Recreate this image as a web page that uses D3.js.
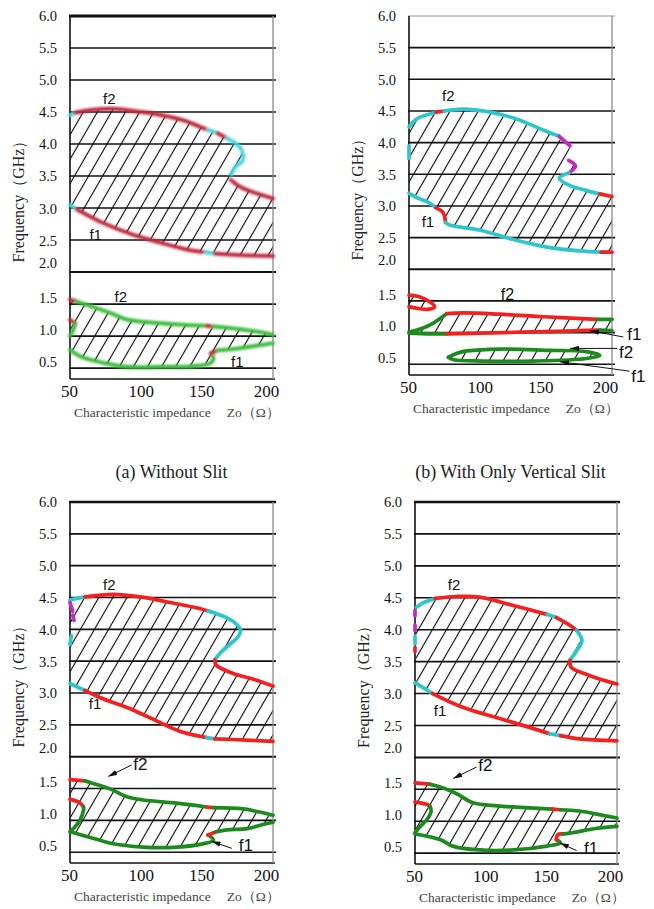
<!DOCTYPE html>
<html>
<head>
<meta charset="utf-8">
<script src="https://cdn.jsdelivr.net/npm/d3@7"></script>
<style>
  body { margin: 0; background: #fff; }
  svg { display: block; }
</style>
</head>
<body>
<svg id="fig" width="654" height="909"></svg>
<script>
// ---- axes ----
const zTicks = [50, 100, 150, 200];
const fTicks = [6.0, 5.5, 5.0, 4.5, 4.0, 3.5, 3.0, 2.5, 2.0, 1.5, 1.0, 0.5];
const fTickLabels = ["6.0", "5.5", "5.0", "4.5", "4.0", "3.5", "3.0", "2.5", "2.0", "1.5", "1.0", "0.5"];
const fFloor = 0.33;

// ---- curves: [Zo (Ω), frequency (GHz), colour code of the segment that starts here] ----
// colour codes: r red, c cyan, m magenta, g green, "-" no segment
// (a) Without Slit
const aF2 = [[50,4.45,"c"],[54,4.49,"r"],[65,4.53,"r"],[82,4.55,"r"],[100,4.51,"r"],[110,4.48,"r"],[134,4.37,"r"],[146,4.27,"r"],[152,4.22,"c"],[159,4.17,"r"],[166,4.09,"c"],[173,4.0,"c"],[177,3.9,"c"],[177.5,3.74,"c"],[172.5,3.65,"c"],[169,3.52,"-"],[169,3.44,"r"],[176,3.33,"r"],[188,3.23,"r"],[200,3.15,"r"]];
const aF1 = [[50,3.05,"c"],[55,2.98,"r"],[72,2.79,"r"],[97,2.58,"r"],[115,2.47,"r"],[137,2.35,"r"],[150,2.31,"c"],[157,2.29,"r"],[171,2.27,"r"],[200,2.25,"r"]];
const aF2Low = [[50,1.57,"r"],[55,1.54,"g"],[65,1.47,"g"],[80,1.36,"g"],[92,1.26,"g"],[117,1.2,"g"],[141,1.17,"g"],[151,1.16,"r"],[156,1.15,"g"],[171,1.12,"g"],[191,1.06,"g"],[200,1.02,"g"]];
const aHook = [[50,1.25,"r"],[54,1.2,"g"],[52,1.08,"g"],[50,1.0,"g"]];
const aF1Low = [[50,0.78,"g"],[58,0.68,"g"],[67,0.62,"g"],[75,0.58,"g"],[92,0.52,"g"],[117,0.52,"g"],[141,0.53,"g"],[154,0.58,"g"],[156,0.66,"g"],[154,0.73,"r"],[159,0.78,"g"],[171,0.8,"g"],[191,0.86,"g"],[200,0.89,"g"]];

// (b) With Only Vertical Slit
const bF2 = [[50,4.25,"c"],[56,4.38,"c"],[65,4.45,"c"],[70,4.48,"r"],[76,4.5,"c"],[90,4.53,"c"],[108,4.49,"c"],[130,4.37,"c"],[149,4.2,"c"],[161,4.1,"m"],[169,3.95,"-"],[168,3.72,"m"],[173,3.63,"m"],[168,3.52,"c"],[161,3.44,"c"],[169,3.32,"c"],[180,3.25,"c"],[191,3.19,"r"],[200,3.15,"r"]];
const bLeft = [[50,3.95,"c"],[50,3.75,"c"]];
const bF1 = [[50,3.2,"c"],[57,3.12,"c"],[65,3.05,"c"],[70,2.97,"r"],[75,2.9,"r"],[77,2.74,"c"],[80,2.7,"c"],[102,2.62,"c"],[127,2.47,"c"],[152,2.35,"c"],[176,2.29,"c"],[192,2.27,"r"],[200,2.27,"r"]];
const bRedLoop = [[50,1.59,"r"],[57,1.57,"r"],[65,1.49,"r"],[69,1.41,"r"],[65,1.37,"r"],[57,1.38,"r"],[50,1.41,"r"]];
const bF2Low = [[50,1.01,"g"],[60,1.07,"g"],[68,1.15,"g"],[78,1.3,"r"],[90,1.31,"r"],[117,1.29,"r"],[150,1.25,"r"],[189,1.21,"g"],[200,1.21,"g"]];
const bF1Low = [[50,0.99,"g"],[65,0.98,"g"],[78,0.98,"r"],[120,1.0,"r"],[160,1.02,"r"],[176,1.03,"r"],[191,1.04,"g"],[200,1.03,"g"]];
const bGreenLoop = [[79,0.61,"g"],[85,0.67,"g"],[93,0.71,"g"],[117,0.74,"g"],[154,0.72,"g"],[181,0.7,"g"],[191,0.64,"g"],[181,0.59,"g"],[142,0.55,"g"],[105,0.55,"g"],[83,0.57,"g"],[79,0.61,"g"]];

// (c)
const cF2 = [[50,4.46,"c"],[56,4.49,"c"],[61,4.51,"r"],[82,4.55,"r"],[102,4.51,"r"],[122,4.43,"r"],[141,4.35,"r"],[152,4.29,"c"],[166,4.18,"c"],[173,4.08,"c"],[176,3.99,"c"],[174,3.88,"c"],[170,3.8,"c"],[161,3.63,"c"],[157,3.52,"r"],[158,3.44,"r"],[170,3.31,"r"],[185,3.22,"r"],[200,3.11,"r"]];
const cLeft = [[50,4.42,"m"],[52,4.28,"-"],[52,4.22,"m"],[53,4.14,"-"],[51,3.9,"c"],[50,3.76,"c"]];
const cF1 = [[50,3.15,"c"],[61,3.04,"r"],[72,2.93,"r"],[97,2.73,"r"],[117,2.53,"r"],[131,2.4,"r"],[146,2.32,"r"],[151,2.3,"c"],[157,2.28,"r"],[170,2.27,"r"],[200,2.24,"r"]];
const cF2Low = [[50,1.64,"r"],[61,1.62,"g"],[67,1.58,"g"],[80,1.49,"g"],[92,1.37,"g"],[104,1.32,"g"],[129,1.27,"g"],[151,1.21,"r"],[156,1.2,"g"],[178,1.18,"g"],[190,1.13,"g"],[200,1.08,"g"]];
const cHook = [[50,1.33,"r"],[57,1.28,"r"],[60,1.21,"g"],[60,1.16,"g"],[57,0.99,"g"],[52.5,0.87,"g"],[50,0.82,"g"]];
const cF1Low = [[50,0.82,"g"],[67,0.72,"g"],[80,0.64,"g"],[104,0.58,"g"],[129,0.58,"g"],[148,0.63,"g"],[156,0.69,"g"],[152,0.77,"r"],[158,0.82,"g"],[166,0.85,"g"],[181,0.87,"g"],[190,0.92,"g"],[200,0.97,"g"]];

// (d)
const dF2 = [[51,4.35,"c"],[56,4.42,"c"],[61,4.46,"c"],[65,4.49,"r"],[81,4.52,"r"],[98,4.51,"r"],[123,4.38,"r"],[148,4.24,"c"],[155,4.19,"r"],[165,4.07,"r"],[170,3.99,"c"],[174,3.83,"c"],[170,3.67,"c"],[165,3.52,"r"],[166,3.41,"r"],[180,3.28,"r"],[200,3.15,"r"]];
const dLeft = [[50,4.3,"m"],[50,4.22,"-"],[50,4.07,"m"],[50,3.99,"-"],[50,3.9,"c"],[50,3.78,"-"],[50,3.72,"r"],[50,3.66,"r"]];
const dF1 = [[50,3.17,"c"],[63,3.0,"r"],[86,2.78,"r"],[111,2.62,"r"],[135,2.47,"r"],[150,2.37,"c"],[158,2.34,"r"],[172,2.29,"r"],[200,2.26,"r"]];
const dF2Low = [[50,1.6,"r"],[61,1.58,"g"],[71,1.52,"g"],[81,1.43,"g"],[93,1.29,"g"],[111,1.24,"g"],[135,1.21,"g"],[152,1.19,"r"],[158,1.18,"g"],[172,1.16,"g"],[190,1.09,"g"],[200,1.05,"g"]];
const dHook = [[50,1.3,"r"],[58,1.27,"r"],[61,1.24,"g"],[62,1.16,"g"],[59,1.03,"g"],[54,0.92,"g"],[50,0.82,"g"]];
const dF1Low = [[50,0.8,"g"],[69,0.71,"g"],[78,0.61,"g"],[98,0.55,"g"],[123,0.55,"g"],[148,0.61,"g"],[158,0.66,"g"],[155,0.71,"r"],[156,0.79,"r"],[160,0.8,"g"],[167,0.82,"g"],[185,0.89,"g"],[200,0.92,"g"]];

// ---- annotations: [text, Zo, GHz, font size] and arrows [[Zo,GHz] from, [Zo,GHz] tip] ----
const aLabels = [["f2",79,4.71,15],["f1",69,2.58,15],["f2",87.5,1.62,15],["f1",173.6,0.6,15]];
const bLabels = [["f2",79,4.74,15],["f1",64,2.76,15],["f2",122.8,1.6,16],["f1",216.5,0.97,17],["f2",210.5,0.68,17],["f1",219.5,0.3,17]];
const bArrows = [[[208.4,0.93],[183.8,1.03]],[[204,0.75],[169,0.75]],[[213,0.39],[161.6,0.54]]];
const cLabels = [["f2",79,4.71,15],["f1",68.5,2.84,15],["f2",102,1.87,17],["f1",180,0.6,17]];
const cArrows = [[[95.6,1.87],[78.3,1.69]],[[169.5,0.56],[154.7,0.67]]];
const dLabels = [["f2",79,4.71,15],["f1",68.6,2.73,15],["f2",102.3,1.88,17],["f1",180.7,0.58,17]];
const dArrows = [[[95.8,1.85],[78.4,1.67]],[[170,0.54],[157.6,0.66]]];

const palette = { r: "#f41f1f", c: "#2ec6cb", m: "#c22ac2", g: "#1c8a1c" };
const softPalette = { r: "#bf2a40", c: "#4ad6dc", m: "#c040c0", g: "#3dbb3d" };

const panels = [
  { left: 70, right: 273, top: 16, bottom: 379, soft: true, caption: "(a) Without Slit",
    curves: [aF2, aF1, aF2Low, aHook, aF1Low], regions: [[aF2, aF1], [aF2Low, aF1Low]],
    labels: aLabels, arrows: [], topWidth: 3, topColor: "#111" },
  { left: 409, right: 612, top: 16, bottom: 375, soft: false, caption: "(b) With Only Vertical Slit",
    curves: [bF2, bLeft, bF1, bRedLoop, bF2Low, bF1Low, bGreenLoop],
    regions: [[bF2, bF1], [bRedLoop], [bF2Low, bF1Low], [bGreenLoop]],
    labels: bLabels, arrows: bArrows, topWidth: 1, topColor: "#9a9a9a" },
  { left: 70, right: 273, top: 502, bottom: 863, soft: false, caption: null,
    curves: [cF2, cLeft, cF1, cF2Low, cHook, cF1Low], regions: [[cF2, cF1], [cF2Low, cF1Low]],
    labels: cLabels, arrows: cArrows, topWidth: 2.5, topColor: "#111" },
  { left: 415, right: 617, top: 502, bottom: 864, soft: false, caption: null,
    curves: [dF2, dLeft, dF1, dF2Low, dHook, dF1Low], regions: [[dF2, dF1], [dF2Low, dF1Low]],
    labels: dLabels, arrows: dArrows, topWidth: 2.5, topColor: "#111" }
];

const serif = "'Liberation Serif', 'Times New Roman', serif";
const sans = "'Liberation Sans', Arial, sans-serif";

const svg = d3.select("#fig");
const defs = svg.append("defs");

// diagonal hatching
const hatch = defs.append("pattern")
  .attr("id", "hatch").attr("patternUnits", "userSpaceOnUse")
  .attr("width", 12.2).attr("height", 20)
  .attr("patternTransform", "rotate(30)");
hatch.append("line")
  .attr("x1", 6.1).attr("y1", -2).attr("x2", 6.1).attr("y2", 22)
  .attr("stroke", "#000").attr("stroke-width", 1.1);

defs.append("filter").attr("id", "soft")
  .attr("x", "-5%").attr("y", "-5%").attr("width", "110%").attr("height", "110%")
  .append("feGaussianBlur").attr("stdDeviation", 0.85);

defs.append("marker").attr("id", "arrow")
  .attr("markerUnits", "userSpaceOnUse")
  .attr("viewBox", "0 0 10 6").attr("refX", 10).attr("refY", 3)
  .attr("markerWidth", 9).attr("markerHeight", 5.5).attr("orient", "auto")
  .append("path").attr("d", "M0,0 L10,3 L0,6 Z").attr("fill", "#111");

const xLabelNudge = { 50: -1, 100: 3, 150: -4, 200: -7 };

panels.forEach(p => {
  const x = d3.scaleLinear().domain([50, 200]).range([p.left, p.right]);
  const y = d3.scaleLinear().domain([fFloor, 6]).range([p.bottom, p.top]);
  const g = svg.append("g");

  // hatched regions
  const area = d3.line().x(d => x(d[0])).y(d => y(d[1]));
  p.regions.forEach(r => {
    const poly = r.length === 2 ? r[0].concat(r[1].slice().reverse()) : r[0];
    g.append("path").attr("d", area(poly) + "Z")
      .attr("fill", "url(#hatch)").attr("stroke", "none");
  });

  // horizontal grid lines
  fTicks.forEach(v => {
    const isTop = v === 6;
    g.append("line")
      .attr("x1", p.left - 1).attr("x2", p.right + 3)
      .attr("y1", y(v)).attr("y2", y(v))
      .attr("stroke", isTop ? p.topColor : "#111")
      .attr("stroke-width", isTop ? p.topWidth : (v === 2 ? 2 : 1.6));
  });
  // frame
  g.append("line").attr("x1", p.left).attr("x2", p.right + 2)
    .attr("y1", y(fFloor)).attr("y2", y(fFloor))
    .attr("stroke", "#111").attr("stroke-width", 1.6);
  g.append("line").attr("x1", p.left).attr("x2", p.left)
    .attr("y1", p.top).attr("y2", y(fFloor))
    .attr("stroke", "#111").attr("stroke-width", 1.6);
  g.append("line").attr("x1", p.right).attr("x2", p.right)
    .attr("y1", p.top).attr("y2", y(fFloor))
    .attr("stroke", "#8a8a8a").attr("stroke-width", 1.3);

  // y axis labels
  const yAxis = d3.axisLeft(y).tickValues(fTicks)
    .tickFormat((d, i) => fTickLabels[i]).tickSize(0).tickPadding(13);
  const ya = g.append("g").attr("transform", `translate(${p.left},0)`).call(yAxis);
  ya.select(".domain").remove();
  ya.selectAll("text")
    .attr("font-family", serif).attr("font-size", 14.5).attr("fill", "#111")
    .attr("dy", d => d === 2 ? "-0.32em" : (d < 2 ? "-0.12em" : "0.34em"));

  // x axis labels
  const xAxis = d3.axisBottom(x).tickValues(zTicks).tickSize(0).tickPadding(6);
  const xa = g.append("g").attr("transform", `translate(0,${y(fFloor)})`).call(xAxis);
  xa.select(".domain").remove();
  xa.selectAll("text")
    .attr("font-family", serif).attr("font-size", 17).attr("fill", "#111")
    .attr("dx", d => xLabelNudge[d]);

  // axis titles
  g.append("text")
    .attr("transform", `translate(${p.left - 52},${(p.top + p.bottom) / 2}) rotate(-90)`)
    .attr("text-anchor", "middle").attr("dominant-baseline", "central")
    .attr("font-family", serif).attr("font-size", 16).attr("fill", "#222")
    .text("Frequency（GHz）");
  const xt = g.append("text")
    .attr("x", p.left + 4).attr("y", y(fFloor) + 38)
    .attr("font-family", serif).attr("font-size", 13.5).attr("fill", "#444");
  xt.append("tspan").text("Characteristic impedance");
  xt.append("tspan").attr("dx", 16).text("Zo（Ω）");

  // curves, one path per run of equal colour
  const pal = p.soft ? softPalette : palette;
  const cg = g.append("g");
  if (p.soft) cg.attr("filter", "url(#soft)");
  const curve = d3.line().x(d => x(d[0])).y(d => y(d[1])).curve(d3.curveCatmullRom.alpha(0.5));
  p.curves.forEach(pts => {
    let i = 0;
    while (i < pts.length - 1) {
      const col = pts[i][2];
      let j = i;
      while (j < pts.length - 1 && pts[j][2] === col) j++;
      if (col !== "-") {
        cg.append("path").attr("d", curve(pts.slice(i, j + 1)))
          .attr("fill", "none").attr("stroke", pal[col])
          .attr("stroke-width", p.soft ? 4 : 3.7)
          .attr("stroke-linecap", "round").attr("stroke-linejoin", "round");
      }
      i = j;
    }
  });

  // arrows and f1/f2 labels
  p.arrows.forEach(a => {
    g.append("line")
      .attr("x1", x(a[0][0])).attr("y1", y(a[0][1]))
      .attr("x2", x(a[1][0])).attr("y2", y(a[1][1]))
      .attr("stroke", "#111").attr("stroke-width", 1)
      .attr("marker-end", "url(#arrow)");
  });
  p.labels.forEach(l => {
    g.append("text")
      .attr("x", x(l[1])).attr("y", y(l[2]))
      .attr("text-anchor", "middle").attr("dominant-baseline", "central")
      .attr("font-family", sans).attr("font-size", l[3]).attr("fill", "#111")
      .text(l[0]);
  });

  if (p.caption) {
    svg.append("text")
      .attr("x", (p.left + p.right) / 2).attr("y", 478)
      .attr("text-anchor", "middle")
      .attr("font-family", serif).attr("font-size", 18).attr("fill", "#222")
      .text(p.caption);
  }
});
</script>
</body>
</html>
